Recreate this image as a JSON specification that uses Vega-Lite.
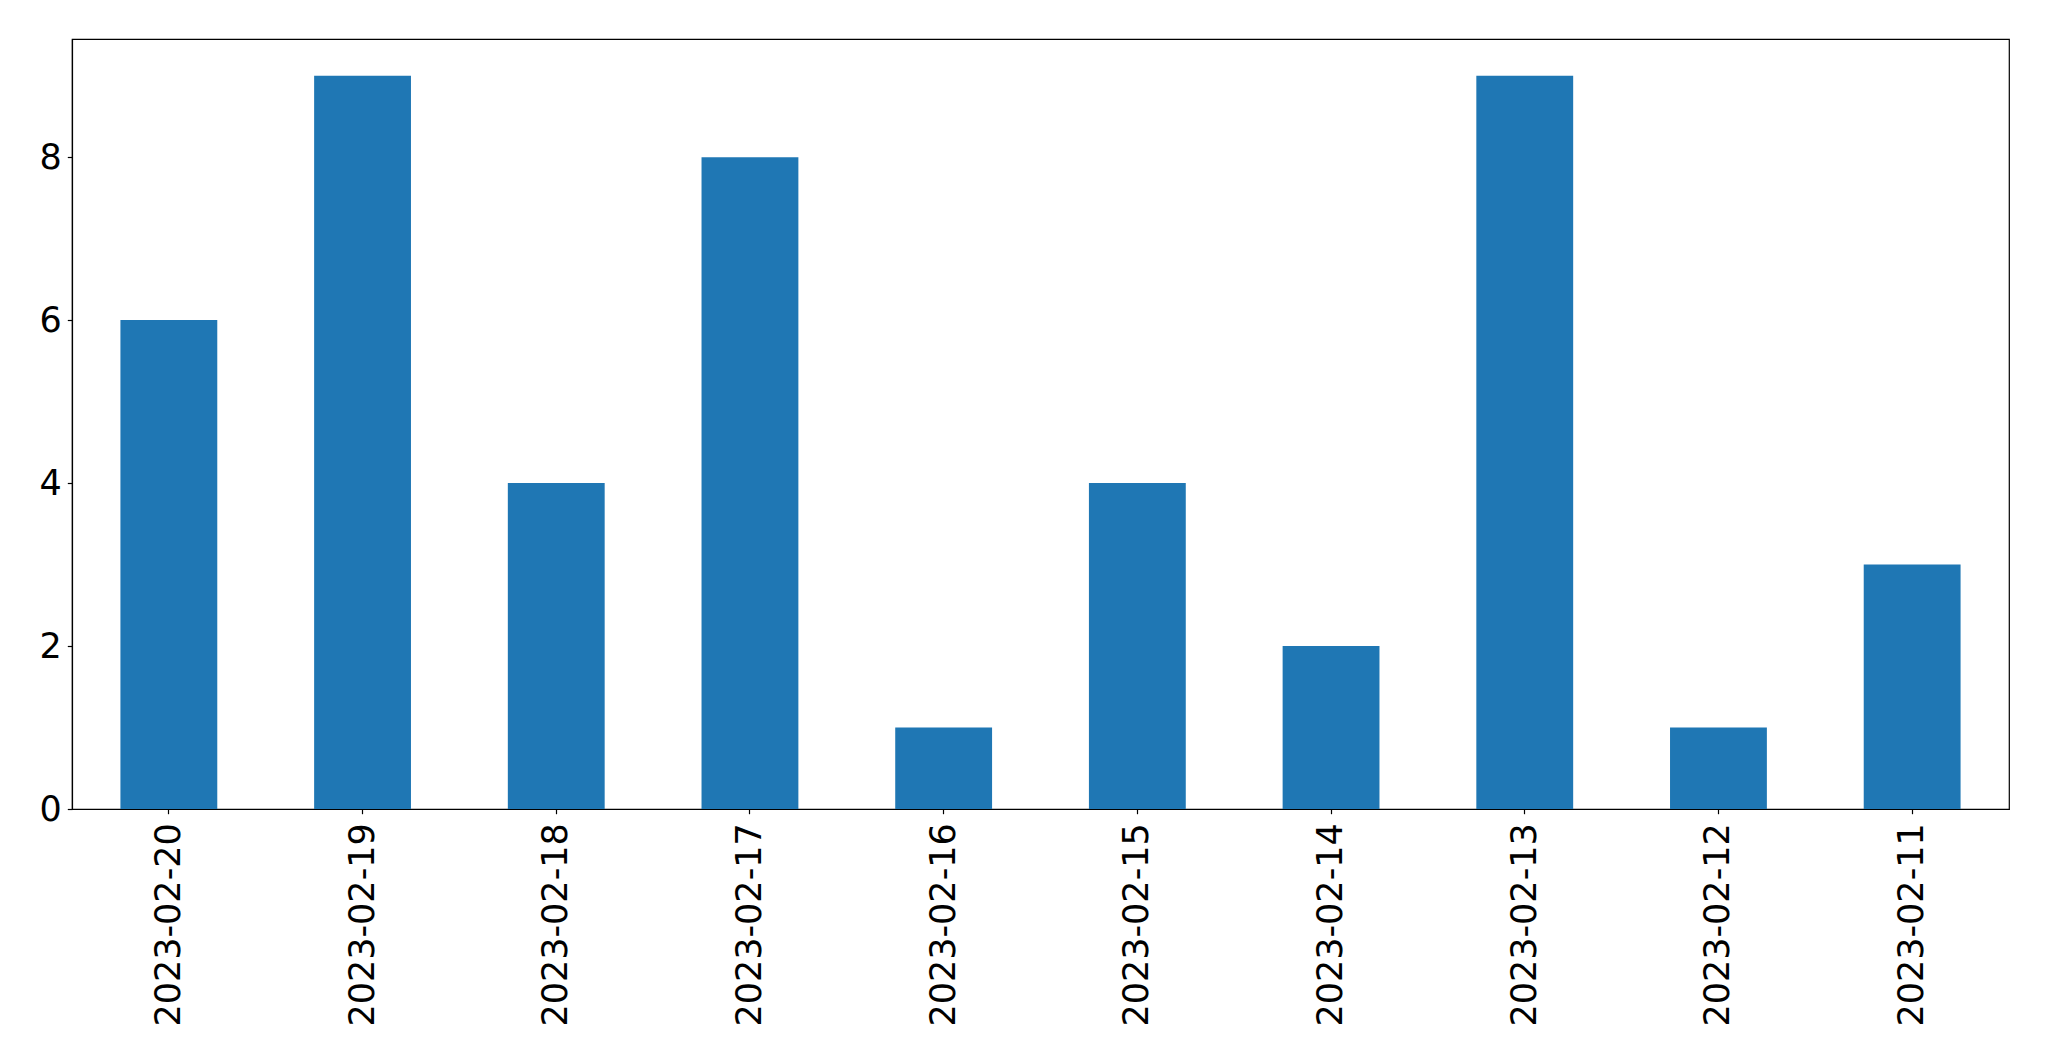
{
  "$schema": "https://vega.github.io/schema/vega-lite/v6.json",
  "width": 1937,
  "height": 770,
  "autosize": {"type": "none"},
  "padding": {"left": 72, "top": 39, "right": 40, "bottom": 252},
  "background": "white",
  "config": {
    "view": {"stroke": "black", "strokeWidth": 1.2},
    "axis": {
      "labelFont": "DejaVu Sans",
      "labelFontSize": 35,
      "labelColor": "black",
      "labelLimit": 0,
      "domainColor": "black",
      "domainWidth": 1.2,
      "tickColor": "black",
      "tickWidth": 1.2,
      "tickSize": 4.7,
      "grid": false,
      "title": null
    }
  },
  "data": {
    "values": [
      {"date": "2023-02-20", "count": 6},
      {"date": "2023-02-19", "count": 9},
      {"date": "2023-02-18", "count": 4},
      {"date": "2023-02-17", "count": 8},
      {"date": "2023-02-16", "count": 1},
      {"date": "2023-02-15", "count": 4},
      {"date": "2023-02-14", "count": 2},
      {"date": "2023-02-13", "count": 9},
      {"date": "2023-02-12", "count": 1},
      {"date": "2023-02-11", "count": 3}
    ]
  },
  "mark": {"type": "bar", "color": "#1f77b4"},
  "encoding": {
    "x": {
      "field": "date",
      "type": "nominal",
      "sort": null,
      "scale": {"paddingInner": 0.5, "paddingOuter": 0.25},
      "axis": {"labelAngle": -90, "labelPadding": 9, "labelAlign": "right", "labelBaseline": "middle"}
    },
    "y": {
      "field": "count",
      "type": "quantitative",
      "scale": {"domain": [0, 9.45], "nice": false, "zero": true},
      "axis": {"values": [0, 2, 4, 6, 8], "labelPadding": 6}
    }
  }
}
